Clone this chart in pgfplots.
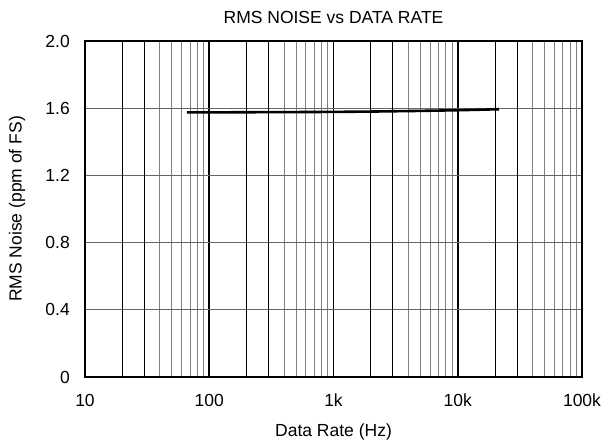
\documentclass[border=0pt]{standalone}
\usepackage{pgfplots}
\pgfplotsset{compat=1.18}
\usepackage{fontspec}
\setmainfont{Liberation Sans}
\begin{document}
\begin{tikzpicture}
\begin{axis}[
  scale only axis,
  width=497bp, height=336bp,
  xmode=log,
  xmin=10, xmax=100000,
  ymin=0, ymax=2,
  font=\fontsize{17.5bp}{20bp}\selectfont,
  xtick={10,100,1000,10000,100000},
  xticklabels={10,100,1k,10k,100k},
  ytick={0,0.4,0.8,1.2,1.6,2.0},
  yticklabels={0,0.4,0.8,1.2,1.6,2.0},
  major tick length=0pt, minor tick length=0pt,
  xmajorgrids=true, xminorgrids=true, ymajorgrids=true,
  major x grid style={black, line width=1.6bp},
  minor x grid style={black!50, line width=0.9bp},
  major y grid style={black!60, line width=0.9bp},
  extra x ticks={20,30,200,300,2000,3000,20000,30000},
  extra x tick labels={},
  extra x tick style={major x grid style={black, line width=0.9bp}},
  axis line style={black, line width=2bp},
  xticklabel style={inner sep=0pt, anchor=north, yshift=-17bp},
  yticklabel style={inner sep=0pt, anchor=east, xshift=-15bp},
  xlabel={Data Rate (Hz)},
  xlabel style={at={(axis description cs:0.5,0)}, anchor=center, yshift=-55bp},
  ylabel={RMS Noise (ppm of FS)},
  ylabel style={at={(axis description cs:0,0.5)}, anchor=center, yshift=68bp},
  title={RMS NOISE vs DATA RATE},
  title style={at={(axis description cs:0.5,1)}, anchor=center, yshift=18bp},
  clip=false,
]
\addplot[black, line width=2.6bp] coordinates {
  (66,1.575) (100,1.575) (200,1.576) (500,1.577) (1000,1.578) (2000,1.580)
  (5000,1.584) (10000,1.588) (15000,1.591) (21500,1.594)
};
\coordinate (bl) at (rel axis cs:0,0);
\coordinate (tr) at (rel axis cs:1,1);
\end{axis}
\pgfresetboundingbox
\path ([shift={(-85bp,-69bp)}]bl) rectangle ([shift={(21bp,41bp)}]tr);
\end{tikzpicture}
\end{document}
